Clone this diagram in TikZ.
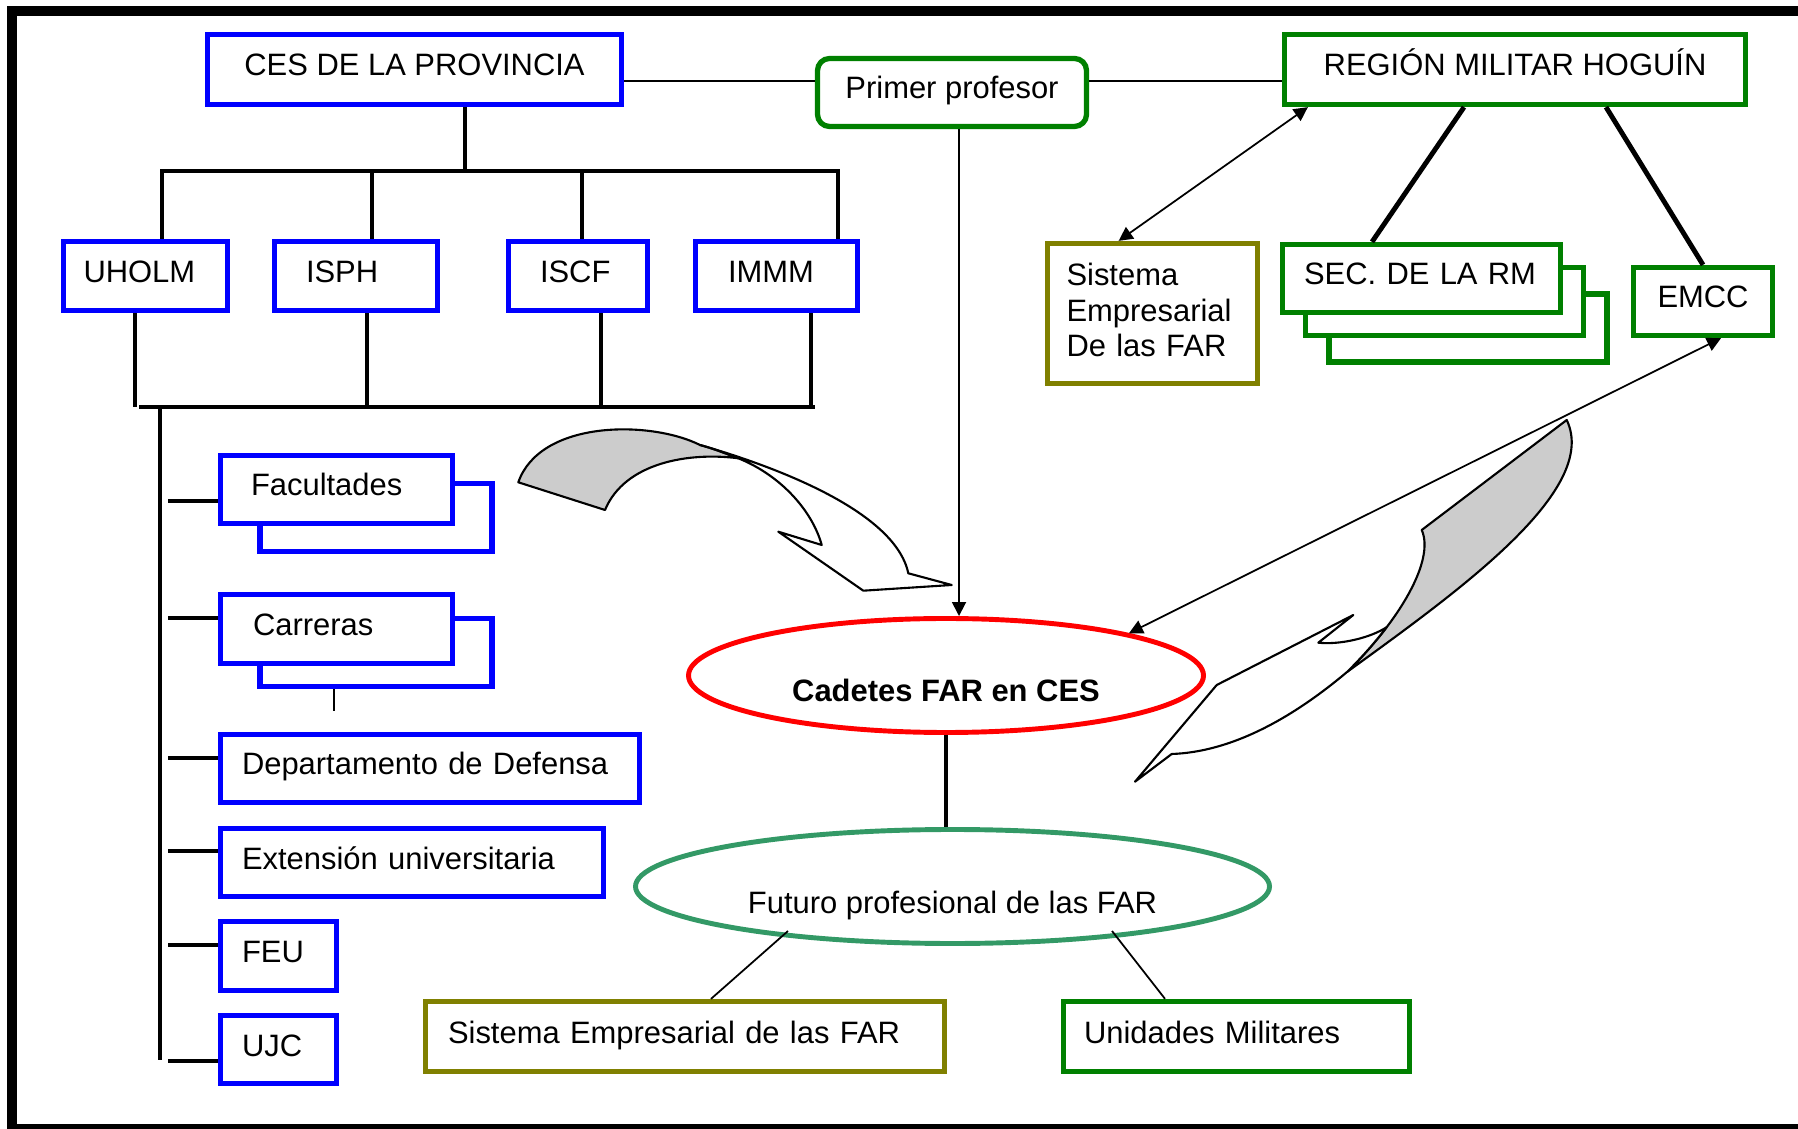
\documentclass[tikz,border=0pt]{standalone}
\usepackage{fontspec}
\setmainfont{Liberation Sans}
\usetikzlibrary{calc,arrows.meta,shapes.geometric}
\hyphenpenalty=10000

\definecolor{orgblue}{RGB}{0,0,255}
\definecolor{orggreen}{RGB}{0,128,0}
\definecolor{orgolive}{RGB}{128,128,0}
\definecolor{orgred}{RGB}{255,0,0}
\definecolor{ovalgreen}{RGB}{51,153,102}
\definecolor{ribbongray}{RGB}{204,204,204}

\newcommand{\orgfont}{\fontsize{8.8}{10.2}\selectfont}

\tikzset{
  orgbox/.style={draw, line width=1.5pt, fill=white, font=\orgfont, inner ysep=0pt},
  oneline/.style={text height=2.2mm, text depth=0.9mm},
  bluebox/.style={orgbox, oneline, draw=orgblue},
  greenbox/.style={orgbox, oneline, draw=orggreen},
  olivebox/.style={orgbox, oneline, draw=orgolive},
  lefttext/.style 2 args={align=left, inner xsep=#1, text width=#2},
  oval/.style={ellipse, draw, line width=1.4pt, inner sep=0pt, font=\orgfont,
    text height=5.3mm, text depth=0mm, minimum height=11.4mm},
  trunk/.style={line width=1.4pt},
  link/.style={line width=0.5pt},
  onearrow/.style={-{Triangle[length=1.4mm,width=1.4mm]}},
  twoarrow/.style={{Triangle[length=1.4mm,width=1.4mm]}-{Triangle[length=1.4mm,width=1.4mm]}},
  ribbon/.style={draw, line width=0.6pt, line join=round},
}

\begin{document}
\begin{tikzpicture}[x=0.1mm,y=-0.1mm]
  \useasboundingbox (0,0) rectangle (1798,1129);
  %% Frame
  \draw[line width=1mm] (1900,1129) -- (12,1129) -- (12,11) -- (1900,11);

  %% Top row
  \node[bluebox, minimum width=41.4mm, minimum height=7mm] (ces) at (414.5,69.5) {CES DE LA PROVINCIA};
  \node[greenbox, rounded corners=1.2mm, minimum width=26.9mm, minimum height=6.8mm] (prof) at (952,92.5) {Primer profesor};
  \node[greenbox, minimum width=46.1mm, minimum height=7mm] (reg) at (1515,69.5) {REGIÓN MILITAR HOGUÍN};
  \coordinate (lvl) at (0,81);
  \draw[link] (ces.east |- lvl) -- (prof.west |- lvl);
  \draw[link] (prof.east |- lvl) -- (reg.west |- lvl);

  %% Institutions
  \node[bluebox, lefttext={2mm}{12.4mm}, minimum height=6.9mm] (uholm) at (145.5,276) {UHOLM};
  \node[bluebox, lefttext={3.15mm}{10mm}, minimum height=6.9mm] (isph) at (356,276) {ISPH};
  \node[bluebox, lefttext={3.15mm}{7.6mm}, minimum height=6.9mm] (iscf) at (578,276) {ISCF};
  \node[bluebox, lefttext={3.25mm}{9.7mm}, minimum height=6.9mm] (immm) at (776.5,276) {IMMM};
  \draw[trunk] (ces.south -| 465,0) -- (465,171);
  \draw[trunk] (uholm.north -| 162,0) -- (162,171) -- (838,171) -- (immm.north -| 838,0);
  \foreach \x/\n in {372/isph,582/iscf}
    \draw[trunk] (\x,171) -- (\n.north -| \x,0);
  \foreach \x/\n in {135/uholm,367/isph,601/iscf,811/immm}
    \draw[trunk] (\n.south -| \x,0) -- (\x,407);
  \draw[trunk] (139,407) -- (815,407);
  \draw[trunk] (160,407) -- (160,1060);

  %% Left column
  \node[bluebox, minimum width=23.2mm, minimum height=6.8mm] (fac2) at (376,517.5) {};
  \node[bluebox, lefttext={3.05mm}{17.1mm}, minimum height=6.8mm] (fac) at (336.5,489.5) {Facultades};
  \node[bluebox, minimum width=23.2mm, minimum height=6.8mm] (carr2) at (376,652.5) {};
  \node[bluebox, lefttext={3.25mm}{16.7mm}, minimum height=6.9mm] (carr) at (336.5,629) {Carreras};
  \node[bluebox, lefttext={2.15mm}{37.6mm}, minimum height=6.8mm] (dept) at (430,768.5) {Departamento de Defensa};
  \node[bluebox, lefttext={2.15mm}{34mm}, minimum height=6.8mm] (ext) at (412,862.5) {Extensión universitaria};
  \node[bluebox, lefttext={2.15mm}{7.3mm}, minimum height=6.9mm] (feu) at (278.5,956) {FEU};
  \node[bluebox, lefttext={2.15mm}{7.3mm}, minimum height=6.8mm] (ujc) at (278.5,1049.5) {UJC};
  \foreach \n/\y in {fac/501,carr/618,dept/758,ext/851,feu/945,ujc/1061}
    \draw[trunk] (168,\y) -- (\n.west |- 0,\y);
  \draw[link] ($(carr2.south)+(-42,0)$) -- ++(0,22);

  %% Right side
  \node[orgbox, draw=orgolive, lefttext={1.9mm}{17.2mm}, text depth=7.9mm, minimum height=14mm] (sisr) at (1152.5,313.5) {Sistema\\Empresarial\\De las FAR};
  \node[greenbox, minimum width=27.8mm, minimum height=6.8mm] (sec3) at (1468,328) {};
  \node[greenbox, minimum width=27.8mm, minimum height=6.8mm] (sec2) at (1444.5,301.5) {};
  \node[greenbox, lefttext={2.15mm}{23.5mm}, minimum height=6.8mm] (sec) at (1421.5,278.5) {SEC. DE LA RM};
  \node[greenbox, minimum width=13.9mm, minimum height=6.8mm] (emcc) at (1703,301.5) {EMCC};
  \draw[trunk] ($(reg.south)+(-51,0)$) -- ($(sec.north)+(-49.5,0)$);
  \draw[trunk] ($(reg.south)+(91,0)$) -- (emcc.north);
  \draw[link, twoarrow] (sisr.115) -- ($(reg.south west)+(26,0)$);

  %% Ribbon arrows
  \filldraw[ribbon, fill=ribbongray] (518.3,482.3) .. controls (540,420) and (650,420) .. (700,445)
    .. controls (715,449) and (727,454) .. (738.3,458.3)
    .. controls (690,452) and (625,462) .. (605,510) -- cycle;
  \filldraw[ribbon, fill=white] (700,445) .. controls (770,465) and (895,510) .. (908.3,573.3)
    -- (951.7,585) -- (863.3,590.7) -- (778.3,531.7) -- (821.7,545)
    .. controls (812,510) and (780,475) .. (738.3,458.3)
    .. controls (727,454) and (715,449) .. (700,445) -- cycle;
  \filldraw[ribbon, fill=ribbongray] (1566.7,420) -- (1421.7,530)
    .. controls (1435,560) and (1400,620) .. (1347,672)
    .. controls (1460,590) and (1600,490) .. (1566.7,420) -- cycle;
  \filldraw[ribbon, fill=white] (1318.3,642.7) .. controls (1340,645) and (1370,638) .. (1386.6,627.2)
    .. controls (1375.2,642.2) and (1361.8,657.4) .. (1347,672)
    .. controls (1290,720) and (1230,752) .. (1171.7,754)
    -- (1135,781.7) -- (1216.7,685) -- (1353.3,615) -- cycle;

  %% Ovals
  \node[oval, draw=orgred, minimum width=51.5mm] (cad) at (946,675.5) {\textbf{Cadetes FAR en CES}};
  \node[oval, draw=ovalgreen, minimum width=63.4mm] (fut) at (952.5,886.5) {Futuro profesional de las FAR};
  \draw[link, onearrow] ($(prof.south)+(7,0)$) -- ($(prof.south |- cad.north)+(7,0)$);
  \draw[link, twoarrow] (cad.13) -- ($(emcc.south)+(18,0)$);
  \draw[trunk] (cad.south) -- (cad.south |- fut.north);

  %% Bottom row
  \node[olivebox, lefttext={2.25mm}{47.4mm}, minimum height=7mm] (sisb) at (685,1036.5) {Sistema Empresarial de las FAR};
  \node[greenbox, lefttext={2.05mm}{30.5mm}, minimum height=7mm] (unid) at (1236.5,1036.5) {Unidades Militares};
  \draw[link] ($(fut.center)+(-164.5,44.5)$) -- ($(sisb.north)+(26,0)$);
  \draw[link] ($(fut.center)+(159.5,44.5)$) -- ($(unid.north)+(-71.5,0)$);
\end{tikzpicture}
\end{document}
